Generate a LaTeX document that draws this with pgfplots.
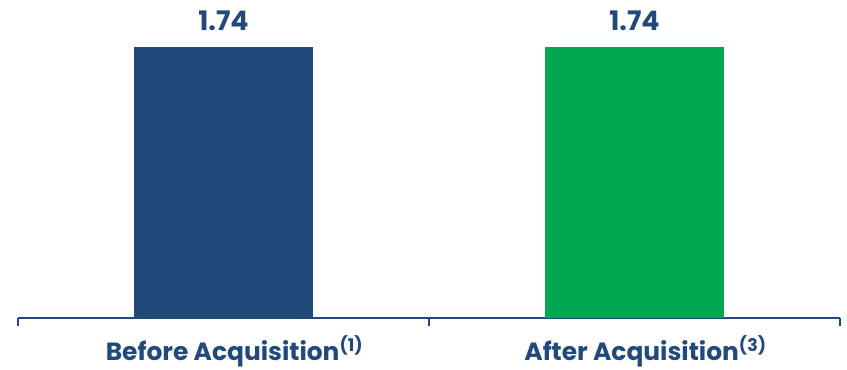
\documentclass[border=0pt]{standalone}
\usepackage{pgfplots}
\pgfplotsset{compat=1.18}
\usepackage{fontspec}
\setmainfont{Poppins}
\definecolor{cblue}{HTML}{21497A}
\definecolor{cgreen}{HTML}{00A650}
\begin{document}
\begin{tikzpicture}
\begin{axis}[
  at={(0,0)}, anchor=south west,
  scale only axis, width=822bp, height=271bp,
  xmin=-0.5, xmax=1.5, ymin=0, ymax=1.74,
  clip=false,
  axis x line*=bottom, axis y line=none,
  axis line style={cblue, line width=1.2bp, -},
  xtick={0,1},
  xticklabels={Before Acquisition\textsuperscript{(1)}, After Acquisition\textsuperscript{(3)}},
  major tick length=0pt,
  xticklabel style={anchor=base, yshift=-42bp, xshift=11bp, font=\fontsize{25}{28}\selectfont\bfseries, text=cblue},
  extra x ticks={-0.5,0.5,1.5},
  extra x tick labels={},
  extra x tick style={major tick length=8bp, tick align=outside, tick style={cblue, line width=1.2bp}},
  ybar, bar width=179bp, bar shift=0pt,
  nodes near coords,
  every node near coord/.append style={anchor=base, yshift=16bp, font=\fontsize{27}{30}\selectfont\bfseries, text=cblue,
    /pgf/number format/assume math mode=true,
    /pgf/number format/fixed, /pgf/number format/precision=2, /pgf/number format/fixed zerofill},
]
\addplot[fill=cblue, draw=none] coordinates {(0,1.74)};
\addplot[fill=cgreen, draw=none] coordinates {(1,1.74)};
\end{axis}
\pgfresetboundingbox
\useasboundingbox (-18bp,-52bp) rectangle (829bp,318bp);
\end{tikzpicture}
\end{document}
